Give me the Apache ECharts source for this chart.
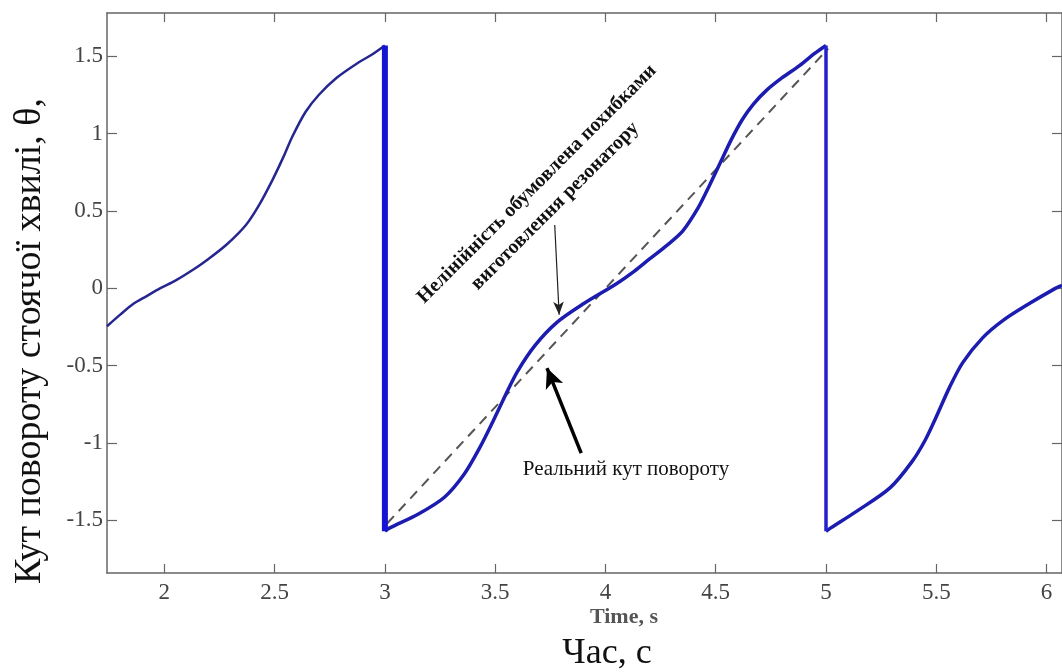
<!doctype html>
<html>
<head>
<meta charset="UTF-8">
<title>Кут повороту стоячої хвилі</title>
<script src="https://cdn.jsdelivr.net/npm/echarts@6/dist/echarts.min.js"></script>
<style>
	html,body{margin:0;padding:0;background:#fff;}
	#main{width:1062px;height:672px;}
</style>
</head>
<body>
<div id="main"></div>
<script type="text/javascript">
// тики осей
var xTicks = [2, 2.5, 3, 3.5, 4, 4.5, 5, 5.5, 6];
var yTicks = [-1.5, -1, -0.5, 0, 0.5, 1, 1.5];

// виміряний кут, три ділянки між скидами
var seg1 = [
	[1.74, -0.245], [1.80, -0.17], [1.86, -0.10], [1.92, -0.05], [1.98, 0.00],
	[2.05, 0.05], [2.13, 0.12], [2.20, 0.19], [2.28, 0.28], [2.37, 0.41],
	[2.43, 0.54], [2.49, 0.70], [2.54, 0.85], [2.58, 0.98], [2.64, 1.14],
	[2.70, 1.25], [2.78, 1.36], [2.88, 1.46], [2.94, 1.51], [3.00, 1.57]
];
var seg2 = [
	[3.00, -1.57], [3.02, -1.55], [3.15, -1.46], [3.27, -1.35], [3.36, -1.20],
	[3.43, -1.03], [3.49, -0.86], [3.54, -0.71], [3.60, -0.54], [3.68, -0.37],
	[3.78, -0.22], [3.90, -0.10], [4.05, 0.03], [4.13, 0.11], [4.20, 0.19],
	[4.28, 0.28], [4.35, 0.37], [4.42, 0.52], [4.47, 0.66], [4.52, 0.81],
	[4.57, 0.96], [4.62, 1.09], [4.67, 1.19], [4.73, 1.28], [4.80, 1.36],
	[4.88, 1.44], [4.95, 1.52], [5.00, 1.57]
];
var seg3 = [
	[5.00, -1.57], [5.02, -1.55], [5.14, -1.44], [5.29, -1.29], [5.39, -1.12],
	[5.45, -0.98], [5.50, -0.83], [5.56, -0.64], [5.62, -0.48], [5.71, -0.32],
	[5.80, -0.21], [5.92, -0.10], [6.04, 0.00], [6.07, 0.02]
];
// скиди (вертикальні лінії)
var jump3 = [[3.00, 1.57], [3.00, -1.57]];
var jump5 = [[5.00, 1.57], [5.00, -1.57]];
// ідеальний (лінійний) кут
var ideal = [[3.01, -1.52], [5.01, 1.55]];

var axisGray = '#666';
var serif = '"Liberation Serif", "DejaVu Serif", serif';

var myChart = echarts.init(document.getElementById('main'));

function curve(data, color, width){
	return {
		type: 'line', data: data, showSymbol: false, smooth: 0.3,
		lineStyle: {color: color, width: width}, z: 3, silent: true
	};
}

function xAx(pos, labels){
	return {
		type: 'value', min: 1.74, max: 6.07, position: pos,
		axisLine: {onZero: false, lineStyle: {color: axisGray, width: 1.5}},
		axisTick: {inside: true, length: 9, customValues: xTicks, lineStyle: {color: axisGray, width: 1.2}},
		axisLabel: labels ? {customValues: xTicks, margin: 8, color: '#444', fontSize: 23, fontFamily: serif} : {show: false},
		splitLine: {show: false}
	};
}
function yAx(pos, labels){
	return {
		type: 'value', min: -1.84, max: 1.78, position: pos,
		axisLine: {show: true, onZero: false, lineStyle: {color: axisGray, width: 1.5}},
		axisTick: {show: true, inside: true, length: 10, customValues: yTicks, lineStyle: {color: axisGray, width: 1.2}},
		axisLabel: labels ? {customValues: yTicks, margin: 4, color: '#444', fontSize: 23, fontFamily: serif} : {show: false},
		splitLine: {show: false}
	};
}

var option = {
	animation: false,
	grid: {left: 107, top: 13, right: -3, bottom: 99},
	xAxis: [xAx('bottom', true), xAx('top', false)],
	yAxis: [yAx('left', true), yAx('right', false)],
	series: [
		{
			type: 'line', data: ideal, showSymbol: false, silent: true, z: 2,
			lineStyle: {color: '#555', width: 2, type: [10, 7]},
			markLine: {
				silent: true,
				label: {show: false},
				data: [
					[{coord: [3.77, 0.41], symbol: 'none', lineStyle: {color: '#222', width: 1.2, type: 'solid'}},
					 {coord: [3.79, -0.17], symbol: 'arrow', symbolSize: [8, 13]}],
					[{coord: [3.89, -1.065], symbol: 'none', lineStyle: {color: '#000', width: 3.5, type: 'solid'}},
					 {coord: [3.735, -0.515], symbol: 'arrow', symbolSize: [14, 20]}]
				]
			}
		},
		curve(seg1, '#262690', 2.5),
		curve(seg2, '#1c1cb0', 3.5),
		curve(seg3, '#1c1cb0', 3.5),
		{type: 'line', data: jump3, showSymbol: false, silent: true, z: 4,
			lineStyle: {color: '#1414d2', width: 6}},
		{type: 'line', data: jump5, showSymbol: false, silent: true, z: 4,
			lineStyle: {color: '#2222cc', width: 3.5}}
	],
	graphic: [
		{type: 'text', x: 30, y: 341, rotation: Math.PI / 2,
			style: {text: 'Кут повороту стоячої хвилі, θ,', font: '38px ' + serif, fill: '#111',
				textAlign: 'center', textVerticalAlign: 'middle'}},
		{type: 'text', x: 624, y: 617,
			style: {text: 'Time, s', font: 'bold 22px ' + serif, fill: '#555',
				textAlign: 'center', textVerticalAlign: 'middle'}},
		{type: 'text', x: 607, y: 654,
			style: {text: 'Час, с', font: '36px ' + serif, fill: '#111',
				textAlign: 'center', textVerticalAlign: 'middle'}},
		{type: 'text', x: 626, y: 469,
			style: {text: 'Реальний кут повороту', font: '21px ' + serif, fill: '#111',
				textAlign: 'center', textVerticalAlign: 'middle'}},
		{type: 'text', x: 537, y: 184, rotation: Math.PI / 4,
			style: {text: 'Нелінійність обумовлена похибками', font: 'bold 20px ' + serif, fill: '#111',
				textAlign: 'center', textVerticalAlign: 'middle'}},
		{type: 'text', x: 555, y: 206, rotation: Math.PI / 4,
			style: {text: 'виготовлення резонатору', font: 'bold 20px ' + serif, fill: '#111',
				textAlign: 'center', textVerticalAlign: 'middle'}}
	]
};

myChart.setOption(option);
</script>
</body>
</html>
